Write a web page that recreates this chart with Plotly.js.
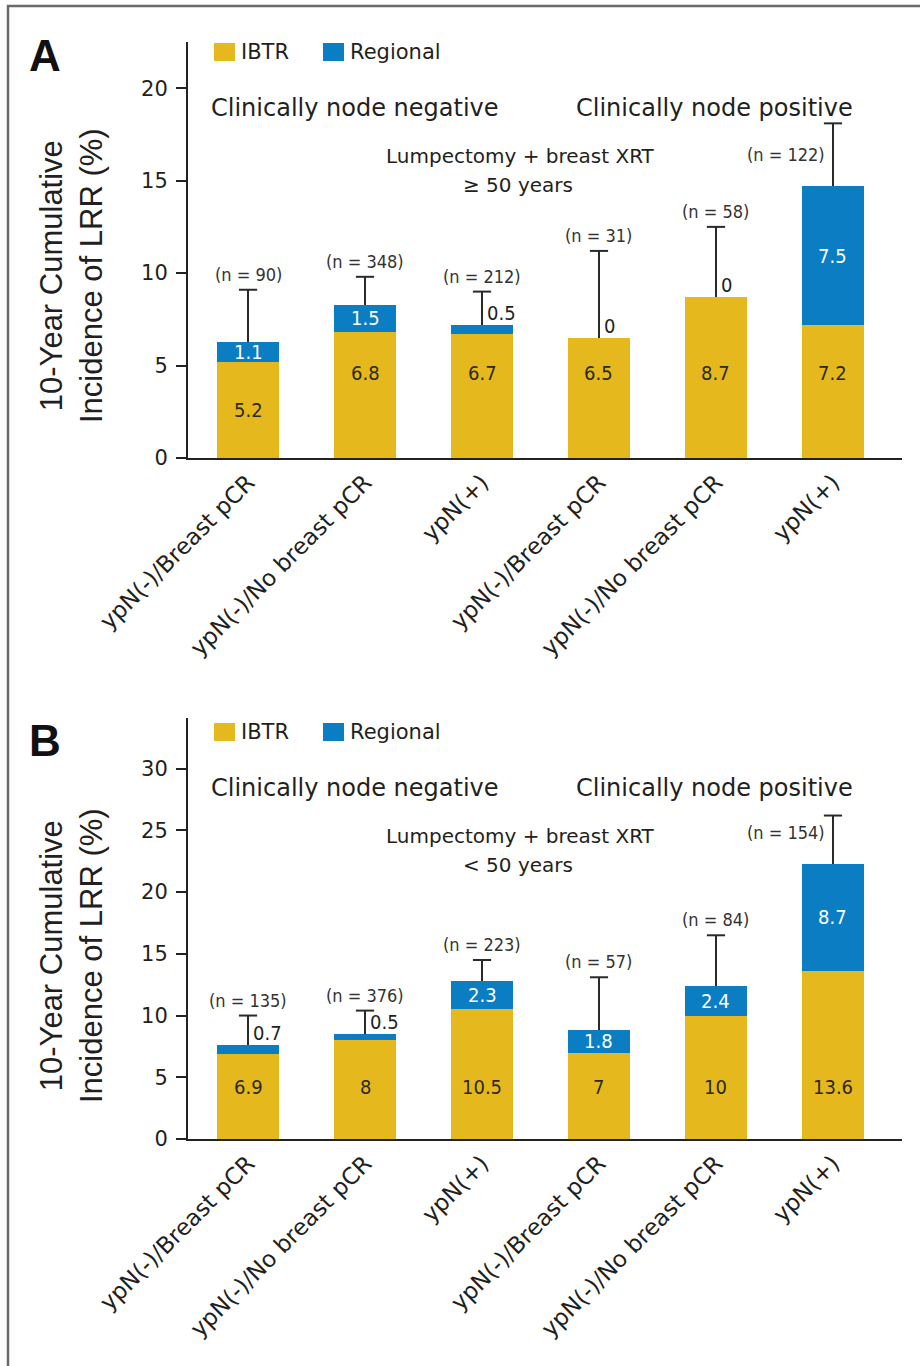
<!DOCTYPE html>
<html><head><meta charset="utf-8">
<script src="https://cdn.plot.ly/plotly-3.0.1.min.js"></script>
<style>html,body{margin:0;padding:0;background:#fff}#chart{width:920px;height:1366px}</style>
</head><body><div id="chart"></div>
<script>
// ---- data ----
const categories = ['ypN(-)/Breast pCR', 'ypN(-)/No breast pCR', 'ypN(+)', 'ypN(-)/Breast pCR', 'ypN(-)/No breast pCR', 'ypN(+)'];
const ibtrA = [5.2, 6.8, 6.7, 6.5, 8.7, 7.2];
const regionalA = [1.1, 1.5, 0.5, 0, 0, 7.5];
const upperA = [9.1, 9.8, 9.0, 11.2, 12.5, 18.1];
const nA = [90, 348, 212, 31, 58, 122];
const ibtrB = [6.9, 8, 10.5, 7, 10, 13.6];
const regionalB = [0.7, 0.5, 2.3, 1.8, 2.4, 8.7];
const upperB = [10.0, 10.4, 14.5, 13.1, 16.5, 26.2];
const nB = [135, 376, 223, 57, 84, 154];
const yTicksA = [0, 5, 10, 15, 20];
const yTicksB = [0, 5, 10, 15, 20, 25, 30];
const legendNames = ['IBTR', 'Regional'];

// ---- styling ----
const W = 920, H = 1366;
const px = x => x / W;
const py = y => 1 - y / H;
const SANS = '"Liberation Sans", Arial, sans-serif';
const WIDE = '"DejaVu Sans", "Liberation Sans", sans-serif';
const NARROW = '"Liberation Sans Narrow", "DejaVu Sans Condensed", sans-serif';
const TXT = '#231f20';
const ERR = '#2a2a2a';
const GOLD = '#e5b81e', BLUE = '#0a7dc3';
const xs = categories.map((_, i) => i);

const panels = [
  {letter: 'A', ibtr: ibtrA, reg: regionalA, upper: upperA, n: nA, yTicks: yTicksA, yMax: 22.5,
   top: 42, bottom: 458, off: 0, ibtrLevel: 4.6, nSideY: 16.4, sub: '\u2265 50 years', letterY: 52},
  {letter: 'B', ibtr: ibtrB, reg: regionalB, upper: upperB, n: nB, yTicks: yTicksB, yMax: 34.1,
   top: 718, bottom: 1139, off: 680, ibtrLevel: 4.2, nSideY: 24.8, sub: '&lt; 50 years', letterY: 737}
];

const data = [];
const annotations = [];
const shapes = [];
const layout = {
  width: W, height: H, margin: {l: 0, r: 0, t: 0, b: 0},
  paper_bgcolor: '#fff', plot_bgcolor: '#fff',
  barmode: 'stack', showlegend: false, hovermode: false,
  font: {family: SANS, color: TXT}
};

function note(o) {
  return Object.assign({showarrow: false, xanchor: 'center', yanchor: 'middle'}, o);
}

panels.forEach((p, k) => {
  const xa = k ? 'x2' : 'x', ya = k ? 'y2' : 'y';
  const xName = k ? 'xaxis2' : 'xaxis', yName = k ? 'yaxis2' : 'yaxis';
  const totals = p.ibtr.map((v, i) => v + p.reg[i]);

  data.push({type: 'bar', name: legendNames[0], x: xs, y: p.ibtr, xaxis: xa, yaxis: ya,
    width: 0.53, marker: {color: GOLD, line: {width: 0}}, hoverinfo: 'skip'});
  data.push({type: 'bar', name: legendNames[1], x: xs, y: p.reg, xaxis: xa, yaxis: ya,
    width: 0.53, marker: {color: BLUE, line: {width: 0}}, hoverinfo: 'skip',
    error_y: {type: 'data', symmetric: false,
      array: p.upper.map((u, i) => +(u - totals[i]).toFixed(3)),
      arrayminus: p.upper.map(() => 0),
      color: ERR, thickness: 2, width: 0}});
  // caps of the upper confidence limits
  data.push({type: 'scatter', mode: 'markers', x: xs, y: p.upper, xaxis: xa, yaxis: ya,
    marker: {symbol: 'line-ew-open', size: 13, color: ERR, line: {color: ERR, width: 2}},
    hoverinfo: 'skip', cliponaxis: false});

  layout[xName] = {domain: [px(188), px(902)], anchor: ya, range: [-0.513, 5.59],
    tickvals: xs, ticktext: categories, tickangle: -45, ticks: '',
    showline: true, linewidth: 2, linecolor: '#222', showgrid: false, zeroline: false,
    tickfont: {family: WIDE, size: 23, color: TXT}, fixedrange: true};
  layout[yName] = {domain: [py(p.bottom), py(p.top)], anchor: xa, range: [0, p.yMax],
    tickvals: p.yTicks, ticks: 'outside', ticklen: 10, tickwidth: 2, tickcolor: '#222',
    showline: true, linewidth: 2, linecolor: '#222', showgrid: false, zeroline: false,
    ticklabelstandoff: 4, tickfont: {family: WIDE, size: 21, color: TXT}, fixedrange: true};

  // value labels
  p.ibtr.forEach((v, i) => {
    const yv = (v - p.ibtrLevel < 1) ? v / 2 : p.ibtrLevel;
    annotations.push(note({xref: xa, yref: ya, x: i, y: yv, text: String(v),
      font: {family: NARROW, size: 20, color: '#2b2a1c'}}));
  });
  p.reg.forEach((v, i) => {
    if (v >= 1) {
      annotations.push(note({xref: xa, yref: ya, x: i, y: p.ibtr[i] + v / 2, text: String(v),
        font: {family: NARROW, size: 20, color: '#fff'}}));
    } else {
      annotations.push(note({xref: xa, yref: ya, x: i, y: totals[i], text: String(v),
        xanchor: 'left', yanchor: 'bottom', xshift: 3, yshift: -2,
        font: {family: NARROW, size: 20, color: TXT}}));
    }
  });
  p.n.forEach((v, i) => {
    const last = i === p.n.length - 1;
    annotations.push(last ?
      note({xref: xa, yref: ya, x: i, y: p.nSideY, text: '(n = ' + v + ')',
        xanchor: 'right', xshift: -6, font: {family: NARROW, size: 18, color: '#333'}}) :
      note({xref: xa, yref: ya, x: i, y: p.upper[i], text: '(n = ' + v + ')',
        yanchor: 'bottom', yshift: 3, font: {family: NARROW, size: 18, color: '#333'}}));
  });

  // headings
  const o = p.off;
  annotations.push(note({xref: 'paper', yref: 'paper', x: px(355), y: py(108 + o), text: 'Clinically node negative',
    font: {family: WIDE, size: 24, color: TXT}}));
  annotations.push(note({xref: 'paper', yref: 'paper', x: px(714), y: py(108 + o), text: 'Clinically node positive',
    font: {family: WIDE, size: 24, color: TXT}}));
  annotations.push(note({xref: 'paper', yref: 'paper', x: px(520), y: py(156 + o), text: 'Lumpectomy + breast XRT',
    font: {family: WIDE, size: 20, color: TXT}}));
  annotations.push(note({xref: 'paper', yref: 'paper', x: px(518), y: py(185 + o), text: p.sub,
    font: {family: WIDE, size: 20, color: TXT}}));
  // panel letter
  annotations.push(note({xref: 'paper', yref: 'paper', x: px(45), y: py(p.letterY + 3), text: '<b>' + p.letter + '</b>',
    font: {family: SANS, size: 44, color: '#111'}}));
  // y title
  annotations.push(note({xref: 'paper', yref: 'paper', x: px(71), y: py(276 + o), textangle: -90,
    text: '10-Year Cumulative<br>Incidence of LRR (%)',
    font: {family: SANS, size: 31, color: TXT}}));
  // legend
  [[214, GOLD, 239, legendNames[0]], [323, BLUE, 348, legendNames[1]]].forEach(([sx, col, tx, name]) => {
    shapes.push({type: 'rect', xref: 'paper', yref: 'paper', x0: px(sx), x1: px(sx + 21),
      y0: py(61 + o), y1: py(43 + o), fillcolor: col, line: {width: 0}});
    annotations.push(note({xref: 'paper', yref: 'paper', x: px(tx), y: py(52 + o), xanchor: 'left',
      text: name, font: {family: WIDE, size: 21, color: TXT}}));
  });
});

// frame
shapes.push({type: 'rect', xref: 'paper', yref: 'paper', x0: px(8), x1: px(930), y0: py(1380), y1: py(6),
  line: {color: '#6a6a6a', width: 2.5}, fillcolor: 'rgba(0,0,0,0)'});

layout.annotations = annotations;
layout.shapes = shapes;

Plotly.newPlot('chart', data, layout, {staticPlot: true, displayModeBar: false});
</script>
</body></html>
